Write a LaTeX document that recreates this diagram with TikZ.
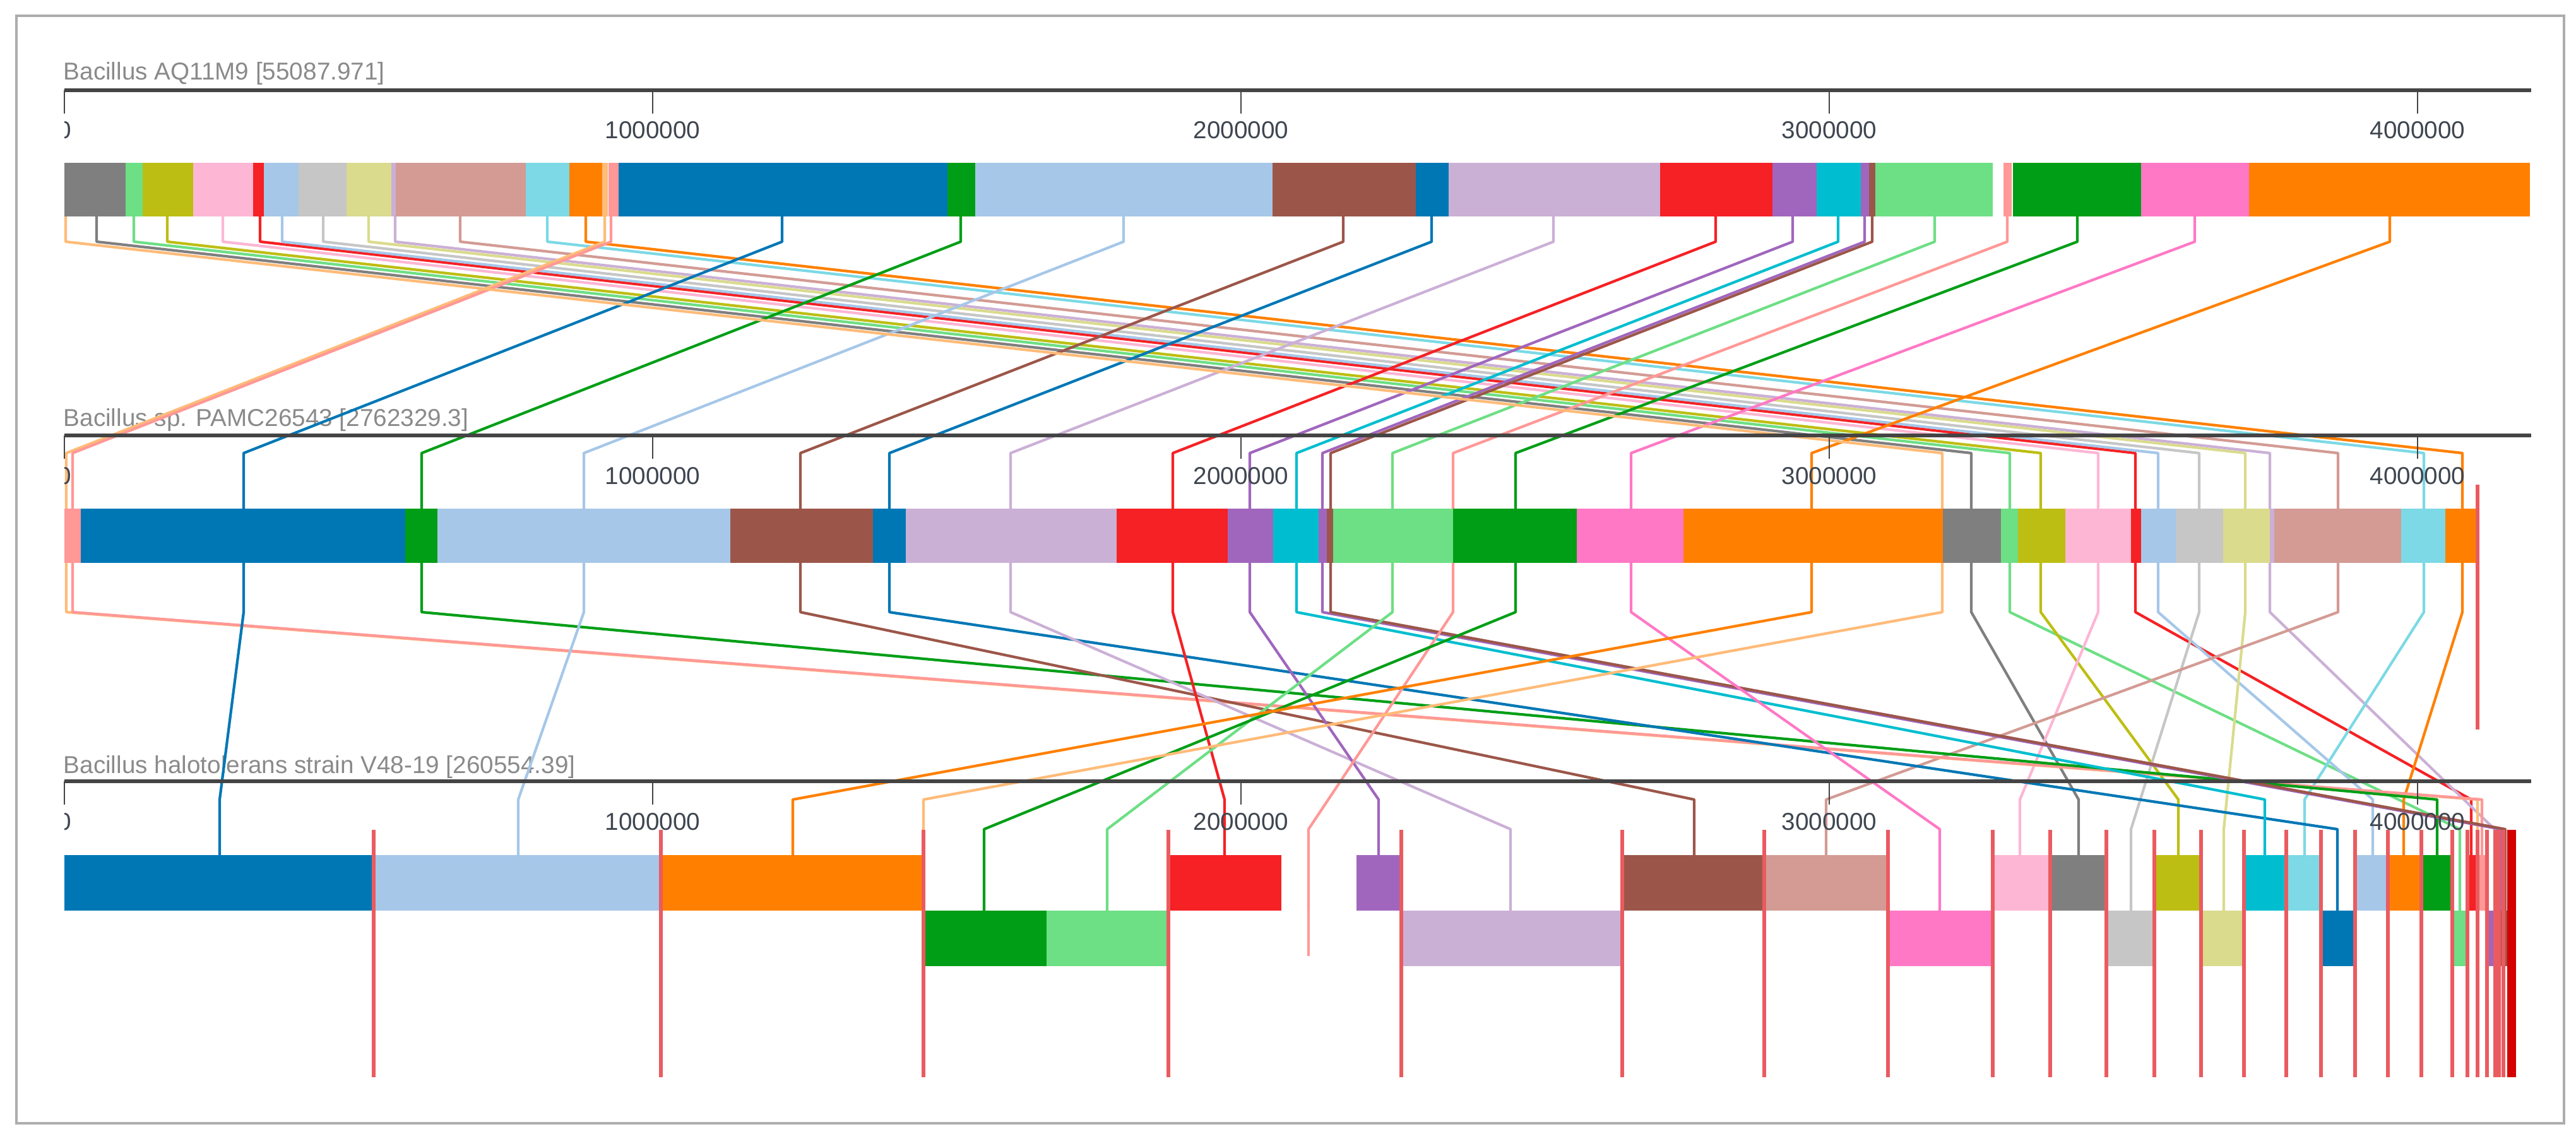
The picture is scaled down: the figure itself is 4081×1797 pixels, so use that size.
\documentclass[tikz,border=0pt]{standalone}
\usepackage{fontspec}
\setmainfont{Liberation Sans}
\definecolor{cblue}{HTML}{0077B5}
\definecolor{clblue}{HTML}{A6C7E8}
\definecolor{corange}{HTML}{FF8000}
\definecolor{clorange}{HTML}{FFBB78}
\definecolor{cgreen}{HTML}{009E16}
\definecolor{clgreen}{HTML}{6DDF85}
\definecolor{cred}{HTML}{F52124}
\definecolor{csalmon}{HTML}{FF9896}
\definecolor{cpurple}{HTML}{A066BD}
\definecolor{clav}{HTML}{CBB0D6}
\definecolor{cbrown}{HTML}{9C5649}
\definecolor{crosy}{HTML}{D39B94}
\definecolor{cpink}{HTML}{FF78C5}
\definecolor{clpink}{HTML}{FDB6D3}
\definecolor{cgrey}{HTML}{7F7F7F}
\definecolor{clgrey}{HTML}{C6C6C6}
\definecolor{colive}{HTML}{BDBE13}
\definecolor{ckhaki}{HTML}{DADB8C}
\definecolor{ccyan}{HTML}{00BECF}
\definecolor{clcyan}{HTML}{7CD9E5}
\definecolor{cmark}{HTML}{EA5B60}
\definecolor{cdark}{HTML}{D40000}
\definecolor{axisgrey}{HTML}{444444}
\definecolor{framegrey}{HTML}{ADADAD}
\definecolor{titlegrey}{HTML}{8A8A8A}
\definecolor{labelgrey}{HTML}{3F4650}

\begin{document}
\begin{tikzpicture}[x = 0.01cm, y = -0.01cm,
    link/.style = { draw = #1, line width = 1.2pt, line join = round },
    rule/.style = { draw = axisgrey, line width = 1.5pt },
    tickmark/.style = { draw = axisgrey, line width = 0.6pt },
    cut/.style = { draw = cmark, line width = 1.5pt },
    ttl/.style = { anchor = base west, inner sep = 0, text = titlegrey,
                   font = \fontsize{11}{13}\selectfont },
    lbl/.style = { anchor = base, inner sep = 0, text = labelgrey,
                   font = \fontsize{11}{13}\selectfont }]
  \useasboundingbox (0,0) rectangle (4081,1797);
  \draw[framegrey, line width = 1.1pt] (26,25) rectangle (4062,1780);

  % genome names
  \node[ttl] (g1) at (100,127) {Bacillus AQ11M9 [55087.971]};
  \node[ttl] (g2) at (100,675) {Bacillus sp. PAMC26543 [2762329.3]};
  \node[ttl] (g3) at (100,1225) {Bacillus halotolerans strain V48-19 [260554.39]};

  % LCB connectors: colour / top x / middle x / bottom x / bottom row
  \foreach \c/\xt/\xm/\xb/\r in {
      cgrey/153/3123/3293/1, clgreen/212/3184/3897/2, colive/265/3233/3451/1,
      clpink/353/3324/3200/1, cred/412/3383/3915/1, clblue/447/3419/3759/1,
      clgrey/512/3484/3376/2, ckhaki/584/3557/3523/2, clav/626/3596/3952/2,
      crosy/729/3704/2893/1, clcyan/867/3840/3651/1, corange/928/3901/3808/1,
      clorange/958/105/3925/1, csalmon/968/115/3932/1, cblue/1239/386/348/1,
      cgreen/1522/668/3861/1, clblue/1780/925/821/1, cbrown/2128/1268/2684/1,
      cblue/2268/1409/3703/2, clav/2461/1601/2393/2, cred/2718/1858/1940/1,
      cpurple/2840/1980/2184/1, ccyan/2912/2054/3588/1, cpurple/2954/2095/3962/2,
      cbrown/2966/2108/3969/2, clgreen/3065/2206/1754/2, csalmon/3180/2302/2073/2,
      cgreen/3291/2401/1559/2, cpink/3477/2584/3073/2, corange/3786/2870/1256/1,
      clorange/104/3077/1463/1}
    \draw[link = \c] (\xt,343) -- (\xt,383) -- (\xm,718) -- (\xm,970)
      -- (\xb,{1220+47*\r}) -- (\xb,{1267+88*\r});
  \draw[link = csalmon] (2073,1443) -- (2073,1515);

  % axes, ticks and positions
  \foreach \y/\n in {143/1, 690/2, 1238/3} {
    \draw[rule] (102,\y) -- (4010,\y);
    \draw[tickmark] (102,\y) -- (102,\y+37);
    \begin{scope}
      \clip (102,\y) rectangle (300,\y+100);
      \node[lbl] (k\n-0) at (102,\y+77) {0};
    \end{scope}
    \foreach \x/\l in {1034/1000000, 1966/2000000, 2898/3000000, 3830/4000000} {
      \draw[tickmark] (\x,\y) -- (\x,\y+37);
      \node[lbl] (k\n-\l) at (\x,\y+77) {\l};
    }
  }

  % blocks of Bacillus AQ11M9
  \foreach \c/\a/\b in {
      cgrey/102/199, clgreen/199/226, colive/226/306, clpink/306/401,
      cred/401/418, clblue/418/473, clgrey/473/549, ckhaki/549/620,
      clav/620/627, crosy/627/833, clcyan/833/902, corange/902/954,
      clorange/954/963, csalmon/964/980, cblue/980/1501, cgreen/1501/1545,
      clblue/1545/2016, cbrown/2016/2243, cblue/2243/2295, clav/2295/2630,
      cred/2630/2808, cpurple/2808/2878, ccyan/2878/2948, cpurple/2948/2961,
      cbrown/2961/2971, clgreen/2971/3157, csalmon/3174/3187, cgreen/3189/3392,
      cpink/3392/3563, corange/3563/4008}
    \fill[\c] (\a,258) rectangle (\b,343);

  % blocks of Bacillus sp. PAMC26543
  \foreach \c/\a/\b in {
      csalmon/102/128, cblue/128/642, cgreen/642/693, clblue/693/1157,
      cbrown/1157/1383, cblue/1383/1435, clav/1435/1769, cred/1769/1945,
      cpurple/1945/2017, ccyan/2017/2089, cpurple/2089/2102, cbrown/2102/2112,
      clgreen/2112/2302, cgreen/2302/2498, cpink/2498/2667, corange/2667/3078,
      cgrey/3078/3170, clgreen/3170/3197, colive/3197/3272, clpink/3272/3376,
      cred/3376/3392, clblue/3392/3447, clgrey/3447/3522, ckhaki/3522/3596,
      clav/3596/3603, crosy/3603/3804, clcyan/3804/3874, corange/3874/3925}
    \fill[\c] (\a,806) rectangle (\b,892);
  \draw[cut] (3925,768) -- (3925,1156);

  % blocks of Bacillus halotolerans, upper and lower row
  \foreach \c/\a/\b/\r in {
      cblue/102/592/1, clblue/592/1047/1, corange/1047/1463/1, cred/1851/2030/1,
      cpurple/2149/2220/1, cbrown/2570/2795/1, crosy/2795/2991/1, clpink/3157/3248/1,
      cgrey/3248/3337/1, colive/3413/3485/1, ccyan/3555/3622/1, clcyan/3622/3677/1,
      clblue/3734/3782/1, corange/3786/3835/1, cgreen/3838/3883/1, cred/3906/3925/1,
      csalmon/3925/3940/1,
      cgreen/1463/1658/2, clgreen/1658/1851/2, clav/2220/2570/2, cpink/2991/3157/2,
      clgrey/3337/3412/2, ckhaki/3487/3555/2, cblue/3677/3730/2, clgreen/3888/3906/2,
      cpurple/3942/3958/2, cbrown/3958/3972/2}
    \fill[\c] (\a,{1267+88*\r}) rectangle (\b,{1355+88*\r});

  \foreach \x in {592, 1047, 1463, 1851, 2220, 2570, 2795, 2991, 3157, 3248,
      3337, 3413, 3487, 3555, 3622, 3677, 3731, 3783, 3836, 3885, 3909, 3925,
      3940, 3953, 3959, 3966}
    \draw[cut] (\x,1315) -- (\x,1707);
  \fill[cdark] (3972,1315) rectangle (3986,1707);
\end{tikzpicture}
\end{document}
